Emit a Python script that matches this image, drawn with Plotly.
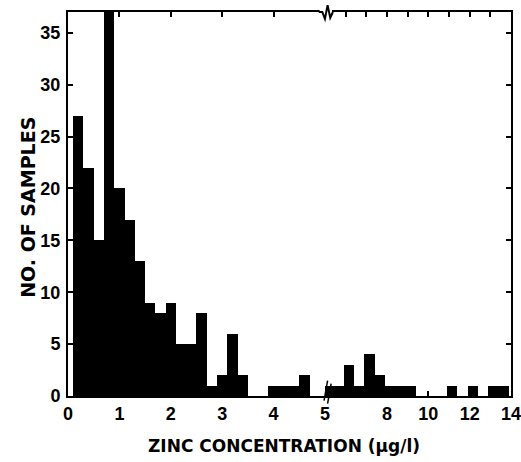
import plotly.graph_objects as go

# ---- data ----
# low range (0-5 µg/l): bins of 0.2, lower edges
low_bin_start = [0.1, 0.3, 0.5, 0.7, 0.9, 1.1, 1.3, 1.5, 1.7, 1.9, 2.1, 2.3,
                 2.5, 2.7, 2.9, 3.1, 3.3, 3.5, 3.7, 3.9, 4.1, 4.3, 4.5, 4.7]
low_counts = [27, 22, 15, 38, 20, 17, 13, 9, 8, 9, 5, 5,
              8, 1, 2, 6, 2, 0, 0, 1, 1, 1, 2, 0]
low_width = 0.2

# high range (5-14 µg/l): bins of 0.5, lower edges
high_bin_start = [4.9, 5.4, 5.9, 6.4, 6.9, 7.4, 7.9, 8.4, 8.9, 9.4, 9.9, 10.4,
                  10.9, 11.4, 11.9, 12.4, 12.9, 13.4]
high_counts = [1, 1, 3, 1, 4, 2, 1, 1, 1, 0, 0, 0,
               1, 0, 1, 0, 1, 1]
high_width = 0.5

low_ticks = [0, 1, 2, 3, 4, 5]
low_ticktext = ["0", "1", "2", "3", "4", "5"]
high_ticks = [6, 7, 8, 9, 10, 11, 12, 13, 14]
high_ticktext = ["", "", "8", "", "10", "", "12", "", "14"]
y_ticks = [0, 5, 10, 15, 20, 25, 30, 35]

x_title = "ZINC CONCENTRATION (µg/l)"
y_title = "NO. OF SAMPLES"

FONT = "Liberation Sans"
TFONT = "DejaVu Sans"
SPLIT = 0.58

fig = go.Figure()
fig.add_trace(go.Bar(x=low_bin_start, y=low_counts, width=low_width, offset=0,
                     marker=dict(color="black", line=dict(width=0)),
                     xaxis="x", yaxis="y", showlegend=False))
fig.add_trace(go.Bar(x=high_bin_start, y=high_counts, width=high_width, offset=0,
                     marker=dict(color="black", line=dict(width=0)),
                     xaxis="x2", yaxis="y2", showlegend=False))

tickfont = dict(family=FONT, size=18, color="black", weight="bold")

fig.update_layout(
    template="none",
    width=521, height=462,
    margin=dict(l=68, r=10, t=12, b=66, autoexpand=False),
    paper_bgcolor="white", plot_bgcolor="white",
    bargap=0,
    font=dict(family=FONT, color="black"),
    xaxis=dict(domain=[0, SPLIT], range=[0, 5], tickvals=low_ticks, ticktext=low_ticktext,
               ticks="inside", ticklen=5, tickwidth=1.5, tickcolor="black",
               mirror="ticks", showline=True, linecolor="black", linewidth=2,
               showgrid=False, zeroline=False, tickfont=tickfont, anchor="y",
               automargin=False, ticklabeloverflow="allow"),
    xaxis2=dict(domain=[SPLIT, 1], range=[5, 14], tickvals=high_ticks, ticktext=high_ticktext,
                ticks="inside", ticklen=5, tickwidth=1.5, tickcolor="black",
                mirror="ticks", showline=True, linecolor="black", linewidth=2,
                showgrid=False, zeroline=False, tickfont=tickfont, anchor="y2",
                automargin=False, ticklabeloverflow="allow"),
    yaxis=dict(range=[0, 37], tickvals=y_ticks, ticks="inside", ticklen=5, tickwidth=1.5,
               tickcolor="black", showline=True, linecolor="black", linewidth=2,
               showgrid=False, zeroline=False, tickfont=tickfont, anchor="x",
               ticklabelstandoff=2, automargin=False, ticklabeloverflow="allow"),
    yaxis2=dict(matches="y", range=[0, 37], tickvals=y_ticks, ticks="inside", ticklen=5,
                tickwidth=1.5, tickcolor="black", side="right", anchor="x2",
                showline=True, linecolor="black", linewidth=2,
                showticklabels=False, showgrid=False, zeroline=False, automargin=False),
)

# axis titles
fig.add_annotation(text=x_title, xref="paper", yref="paper", x=0.488, y=0,
                   yshift=-50, yanchor="middle", showarrow=False,
                   font=dict(family=TFONT, size=17, color="black", weight="bold"))
fig.add_annotation(text=y_title, xref="paper", yref="paper", x=0, xshift=-40,
                   y=0.49, textangle=-90, showarrow=False, xanchor="center",
                   font=dict(family=TFONT, size=19, color="black", weight="bold"))

# axis break marks (decorations at the split)
sx = SPLIT
fig.add_shape(type="rect", xref="paper", yref="paper", x0=sx - 0.012, x1=sx + 0.016,
              y0=0.985, y1=1.02, fillcolor="white", line=dict(width=0))
fig.add_shape(type="path", xref="paper", yref="paper",
              path=f"M {sx-0.014},1 L {sx-0.006},1 L {sx},0.982 L {sx+0.006},1.018 L {sx+0.012},0.985 L {sx+0.018},1",
              line=dict(color="black", width=2))
fig.add_shape(type="line", xref="paper", yref="paper", x0=sx - 0.002, x1=sx + 0.006,
              y0=-0.012, y1=0.04, line=dict(color="black", width=1.5))
fig.add_shape(type="line", xref="paper", yref="paper", x0=sx + 0.006, x1=sx + 0.014,
              y0=-0.02, y1=0.032, line=dict(color="black", width=1.5))

fig.write_html("out.html", config={"displayModeBar": False},
               post_script="document.body.style.margin='0';document.body.style.overflow='hidden';")
